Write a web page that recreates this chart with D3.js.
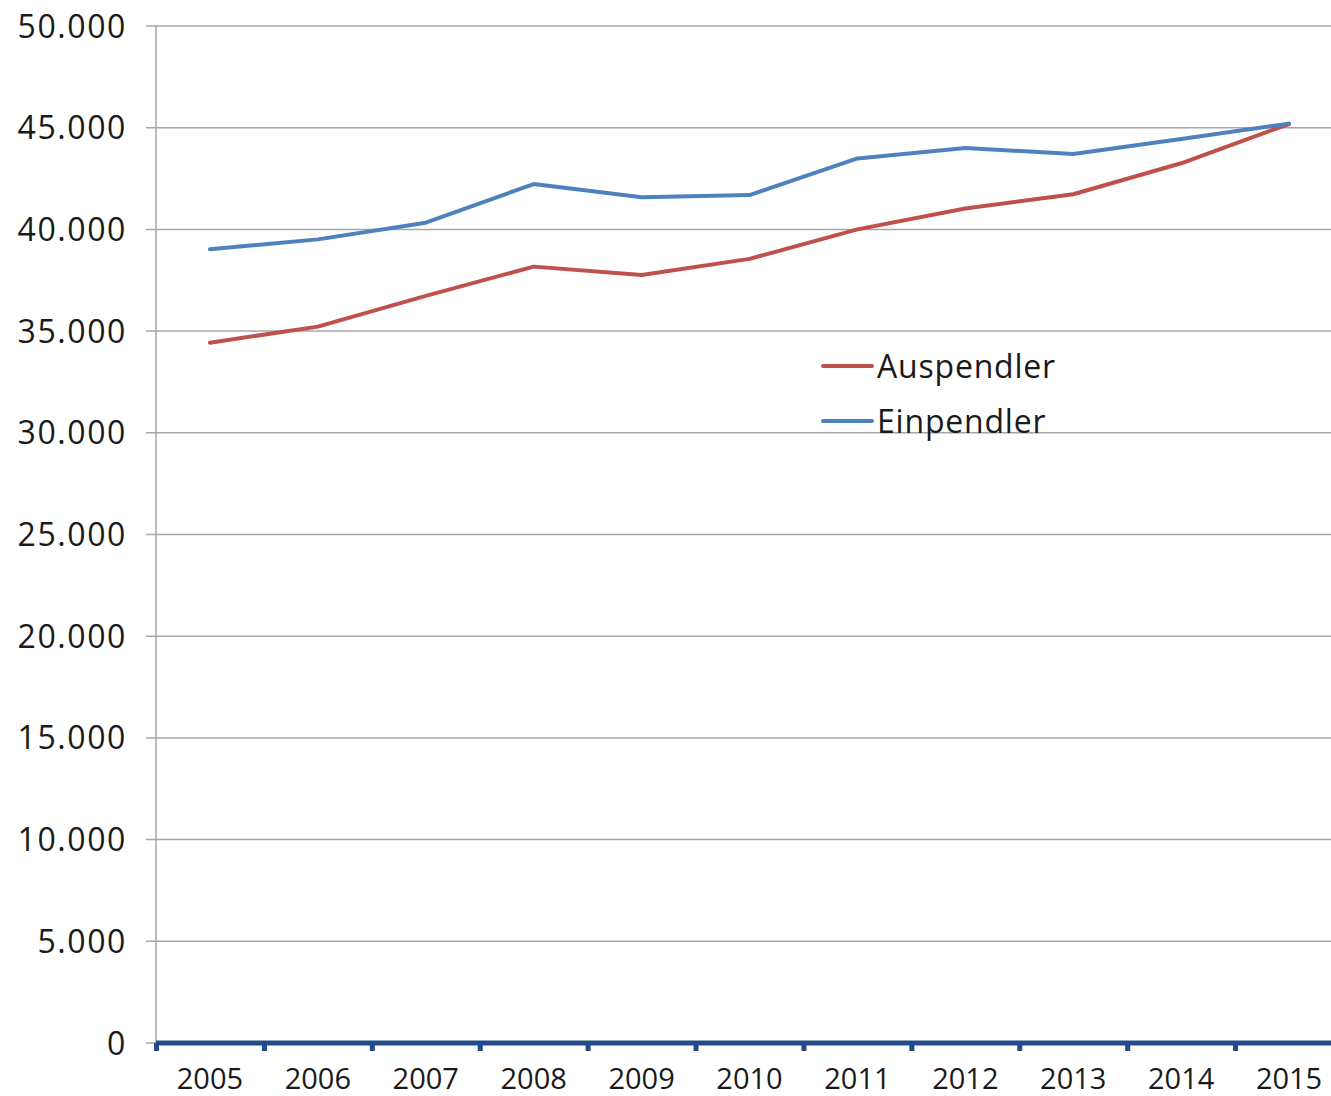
<!DOCTYPE html>
<html>
<head>
<meta charset="utf-8">
<script src="https://cdn.jsdelivr.net/npm/d3@7"></script>
<style>
  html, body { margin: 0; padding: 0; background: #fff; }
  svg text { font-family: "Open Sans", "Noto Sans", sans-serif; fill: #1a1a1a; }
</style>
</head>
<body>
<svg id="chart" width="1331" height="1096"></svg>
<script>
// Pendler (commuters) per year
const years = ["2005","2006","2007","2008","2009","2010","2011","2012","2013","2014","2015"];
const auspendler = [34430, 35220, 36730, 38170, 37760, 38550, 40000, 41030, 41730, 43250, 45180];
const einpendler = [39020, 39510, 40330, 42230, 41580, 41690, 43490, 44000, 43710, 44440, 45200];
const yTicks = [0, 5000, 10000, 15000, 20000, 25000, 30000, 35000, 40000, 45000, 50000];
const seriesNames = ["Auspendler", "Einpendler"];
const seriesColors = ["#C0504D", "#4F81BD"];

const svg = d3.select("#chart");
const plotLeft = 156, plotRight = 1343, plotTop = 26, plotBottom = 1043;

const x = d3.scaleBand().domain(years).range([plotLeft, plotRight]);
const y = d3.scaleLinear().domain([0, 50000]).range([plotBottom, plotTop]);

const fmt = v => d3.format(",")(v).replace(/,/g, ".");

// horizontal gridlines with short outer ticks
svg.append("g")
  .selectAll("line")
  .data(yTicks.filter(t => t > 0))
  .join("line")
  .attr("x1", plotLeft - 10).attr("x2", 1331)
  .attr("y1", d => y(d)).attr("y2", d => y(d))
  .attr("stroke", "#a6a6a6").attr("stroke-width", 1.5);

// vertical axis line
svg.append("line")
  .attr("x1", plotLeft).attr("x2", plotLeft)
  .attr("y1", plotTop).attr("y2", plotBottom)
  .attr("stroke", "#a6a6a6").attr("stroke-width", 1.5);

// y tick labels
svg.append("g")
  .selectAll("text")
  .data(yTicks)
  .join("text")
  .attr("x", 127)
  .attr("y", d => y(d))
  .attr("dy", "0.36em")
  .attr("text-anchor", "end")
  .attr("font-size", 32)
  .attr("letter-spacing", 1.6)
  .text(d => fmt(d));

// zero tick stub
svg.append("line")
  .attr("x1", plotLeft - 10).attr("x2", plotLeft)
  .attr("y1", y(0)).attr("y2", y(0))
  .attr("stroke", "#a6a6a6").attr("stroke-width", 1.5);

// category axis: thick navy baseline with square tick marks at band edges
const bandEdges = years.map(d => x(d)).concat([x(years[years.length - 1]) + x.bandwidth()]);
svg.append("g")
  .selectAll("rect")
  .data(bandEdges)
  .join("rect")
  .attr("x", d => d - 2)
  .attr("y", y(0))
  .attr("width", 5)
  .attr("height", 8)
  .attr("fill", "#234a8a");
svg.append("line")
  .attr("x1", plotLeft).attr("x2", 1331)
  .attr("y1", y(0)).attr("y2", y(0))
  .attr("stroke", "#234a8a").attr("stroke-width", 5);

// x labels
svg.append("g")
  .selectAll("text")
  .data(years)
  .join("text")
  .attr("x", d => x(d) + x.bandwidth() / 2)
  .attr("y", 1089)
  .attr("text-anchor", "middle")
  .attr("font-size", 29)
  .text(d => d);

// lines
const line = d3.line()
  .x((d, i) => x(years[i]) + x.bandwidth() / 2)
  .y(d => y(d));

[auspendler, einpendler].forEach((vals, k) => {
  svg.append("path")
    .datum(vals)
    .attr("d", line)
    .attr("fill", "none")
    .attr("stroke", seriesColors[k])
    .attr("stroke-width", 4)
    .attr("stroke-linejoin", "round")
    .attr("stroke-linecap", "round");
});

// legend
const legend = svg.append("g");
seriesNames.forEach((name, k) => {
  const ly = 366 + k * 55;
  legend.append("line")
    .attr("x1", 823).attr("x2", 872)
    .attr("y1", ly).attr("y2", ly)
    .attr("stroke", seriesColors[k])
    .attr("stroke-width", 4)
    .attr("stroke-linecap", "round");
  legend.append("text")
    .attr("x", 877)
    .attr("y", ly)
    .attr("dy", "0.36em")
    .attr("font-size", 32)
    .attr("letter-spacing", 0.8)
    .text(name);
});
</script>
</body>
</html>
